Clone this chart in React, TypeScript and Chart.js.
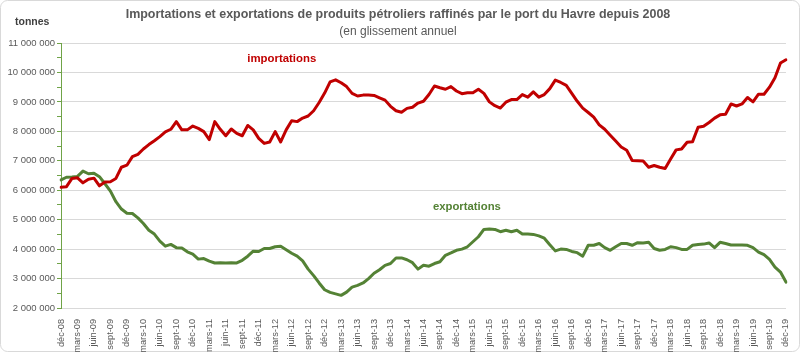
import React, { useEffect, useRef } from "react";
import { Chart, registerables } from "chart.js";

Chart.register(...registerables);

// ---- data (millions of tonnes, rolling 12 months) ----
const monthNames = ["janv", "févr", "mars", "avr", "mai", "juin", "juil", "août", "sept", "oct", "nov", "déc"];
const firstYear = 2008;
const firstMonth = 11; // déc
const monthCount = 133;

const importations = [
  6.10, 6.12, 6.40, 6.42, 6.25, 6.37, 6.41, 6.15, 6.28, 6.29, 6.40, 6.78, 6.85,
  7.14, 7.22, 7.40, 7.55, 7.68, 7.82, 7.98, 8.07, 8.33, 8.05, 8.05, 8.18, 8.10,
  7.99, 7.72, 8.33, 8.07, 7.85, 8.08, 7.93, 7.85, 8.20, 8.05, 7.76, 7.59, 7.64,
  7.99, 7.64, 8.05, 8.36, 8.33, 8.45, 8.52, 8.70, 8.98, 9.30, 9.68, 9.75, 9.65,
  9.52, 9.29, 9.20, 9.23, 9.23, 9.22, 9.14, 9.06, 8.85, 8.70, 8.65, 8.78, 8.82,
  8.96, 9.02, 9.25, 9.54, 9.48, 9.43, 9.52, 9.37, 9.28, 9.31, 9.31, 9.43, 9.29,
  9.00, 8.87, 8.79, 8.99, 9.08, 9.08, 9.25, 9.16, 9.34, 9.16, 9.25, 9.45, 9.74,
  9.66, 9.56, 9.29, 9.02, 8.79, 8.64, 8.48, 8.22, 8.07, 7.87, 7.67, 7.47, 7.36,
  7.01, 7.00, 6.99, 6.78, 6.84, 6.78, 6.74, 7.06, 7.37, 7.40, 7.63, 7.65, 8.14,
  8.17, 8.30, 8.45, 8.56, 8.58, 8.93, 8.86, 8.93, 9.15, 9.00, 9.26, 9.26, 9.50,
  9.82, 10.32, 10.43,
];

const exportations = [
  6.35, 6.44, 6.45, 6.47, 6.65, 6.56, 6.58, 6.46, 6.22, 5.97, 5.61, 5.36, 5.22,
  5.21, 5.06, 4.87, 4.64, 4.51, 4.27, 4.10, 4.16, 4.05, 4.04, 3.91, 3.83, 3.66,
  3.68, 3.59, 3.53, 3.54, 3.53, 3.54, 3.53, 3.62, 3.76, 3.93, 3.92, 4.02, 4.02,
  4.08, 4.10, 3.98, 3.86, 3.76, 3.60, 3.32, 3.10, 2.85, 2.62, 2.53, 2.48, 2.43,
  2.54, 2.71, 2.77, 2.85, 3.00, 3.18, 3.30, 3.45, 3.51, 3.70, 3.70, 3.64, 3.54,
  3.32, 3.45, 3.42, 3.51, 3.57, 3.79, 3.87, 3.96, 4.00, 4.08, 4.25, 4.42, 4.67,
  4.68, 4.67, 4.59, 4.64, 4.59, 4.64, 4.51, 4.51, 4.50, 4.45, 4.37, 4.15, 3.94,
  4.00, 3.99, 3.92, 3.88, 3.76, 4.13, 4.13, 4.19, 4.05, 3.96, 4.08, 4.19, 4.19,
  4.13, 4.22, 4.21, 4.23, 4.02, 3.96, 3.99, 4.08, 4.05, 3.99, 3.99, 4.13, 4.16,
  4.17, 4.21, 4.05, 4.23, 4.19, 4.14, 4.14, 4.14, 4.13, 4.05, 3.90, 3.81, 3.65,
  3.39, 3.22, 2.88,
];

const yMin = 2000000;
const yMax = 11000000;
const yMinorStep = 500000;
const labelEvery = 3;

const titleText = "Importations et exportations de produits pétroliers raffinés par le port du Havre depuis 2008";
const subtitleText = "(en glissement annuel";
const unitText = "tonnes";
const importLabel = { text: "importations", index: 40.2, value: 10460000 };
const exportLabel = { text: "exportations", index: 73.9, value: 5440000 };

const categories: string[] = [];
for (let k = 0; k < monthCount; k++) {
  const m = (firstMonth + k) % 12;
  const y = firstYear + Math.floor((firstMonth + k) / 12);
  categories.push(`${monthNames[m]}-${String(y % 100).padStart(2, "0")}`);
}

const RED = "#C00000";
const GREEN = "#548235";
const AXIS_GREEN = "#6FA347";
const GRID = "#D9D9D9";
const TEXT = "#595959";
const FONT = "'Liberation Sans', Arial, sans-serif";

function fmt(v: number) {
  return String(Math.round(v)).replace(/\B(?=(\d{3})+(?!\d))/g, " ");
}

function fitFont(ctx: CanvasRenderingContext2D, text: string, weight: string, size: number, target: number) {
  ctx.font = `${weight} ${size}px ${FONT}`;
  const w = ctx.measureText(text).width;
  const s = w > target ? (size * target) / w : size;
  return `${weight} ${s}px ${FONT}`;
}

const decorPlugin = {
  id: "decor",
  beforeDraw(chart: any) {
    const { ctx, width, height } = chart;
    ctx.save();
    ctx.fillStyle = "#ffffff";
    ctx.fillRect(0, 0, width, height);
    ctx.strokeStyle = GRID;
    ctx.lineWidth = 1;
    ctx.beginPath();
    if ((ctx as any).roundRect) (ctx as any).roundRect(0.5, 0.5, width - 1, height - 1, 7);
    else ctx.rect(0.5, 0.5, width - 1, height - 1);
    ctx.stroke();
    ctx.restore();
  },
  afterDraw(chart: any) {
    const { ctx } = chart;
    const xs = chart.scales.x;
    const ys = chart.scales.y;
    ctx.save();
    ctx.textBaseline = "middle";
    ctx.textAlign = "center";
    ctx.fillStyle = TEXT;
    ctx.font = fitFont(ctx, titleText, "bold", 13.5, 545);
    ctx.fillText(titleText, 398, 15);
    ctx.font = fitFont(ctx, subtitleText, "normal", 12, 118);
    ctx.fillText(subtitleText, 398, 32);
    ctx.textAlign = "left";
    ctx.fillStyle = "#404040";
    ctx.font = `bold 10.5px ${FONT}`;
    ctx.fillText(unitText, 15, 22);
    ctx.textAlign = "center";
    ctx.font = fitFont(ctx, importLabel.text, "bold", 12.5, 69);
    ctx.fillStyle = RED;
    ctx.fillText(importLabel.text, xs.getPixelForValue(importLabel.index), ys.getPixelForValue(importLabel.value));
    ctx.font = fitFont(ctx, exportLabel.text, "bold", 12.5, 68);
    ctx.fillStyle = GREEN;
    ctx.fillText(exportLabel.text, xs.getPixelForValue(exportLabel.index), ys.getPixelForValue(exportLabel.value));
    ctx.restore();
  },
};

export default function App() {
  const ref = useRef<HTMLCanvasElement | null>(null);

  useEffect(() => {
    document.body.style.margin = "0";
    const canvas = ref.current;
    if (!canvas) return;
    const chart = new Chart(canvas, {
      type: "line",
      data: {
        labels: categories,
        datasets: [
          {
            label: "importations",
            data: importations.map((v) => v * 1000000),
            borderColor: RED,
            backgroundColor: RED,
            borderWidth: 3,
            pointRadius: 0,
            tension: 0,
            borderJoinStyle: "round",
            borderCapStyle: "round",
          },
          {
            label: "exportations",
            data: exportations.map((v) => v * 1000000),
            borderColor: GREEN,
            backgroundColor: GREEN,
            borderWidth: 3,
            pointRadius: 0,
            tension: 0,
            borderJoinStyle: "round",
            borderCapStyle: "round",
          },
        ],
      },
      options: {
        responsive: false,
        animation: false,
        events: [],
        layout: { padding: { top: 43, left: 0, right: 7, bottom: 0 } },
        plugins: {
          legend: { display: false },
          tooltip: { enabled: false },
          title: { display: false },
        },
        scales: {
          x: {
            type: "category",
            offset: false,
            grid: { display: false },
            border: { display: true, color: GRID, width: 1 },
            ticks: {
              autoSkip: false,
              maxRotation: 90,
              minRotation: 90,
              padding: 3,
              color: TEXT,
              font: { family: FONT, size: 9.2 },
              callback: (_v: any, i: number) => (i % labelEvery === 0 ? categories[i] : ""),
            },
            afterFit: (s: any) => {
              s.height = 44;
            },
          },
          y: {
            min: yMin,
            max: yMax,
            grid: {
              color: (c: any) => (c.tick && c.tick.value % 1000000 === 0 ? GRID : "rgba(0,0,0,0)"),
              tickColor: AXIS_GREEN,
              tickLength: 4,
              lineWidth: 1,
            },
            border: { display: true, color: AXIS_GREEN, width: 1 },
            ticks: {
              stepSize: yMinorStep,
              padding: 2,
              color: TEXT,
              font: { family: FONT, size: 9.5 },
              callback: (v: any) => (Number(v) % 1000000 === 0 ? fmt(Number(v)) : ""),
            },
            afterFit: (s: any) => {
              s.width = 61;
            },
          },
        },
      },
      plugins: [decorPlugin],
    } as any);
    return () => chart.destroy();
  }, []);

  return <canvas ref={ref} width={800} height={352} style={{ display: "block", width: 800, height: 352 }} />;
}
